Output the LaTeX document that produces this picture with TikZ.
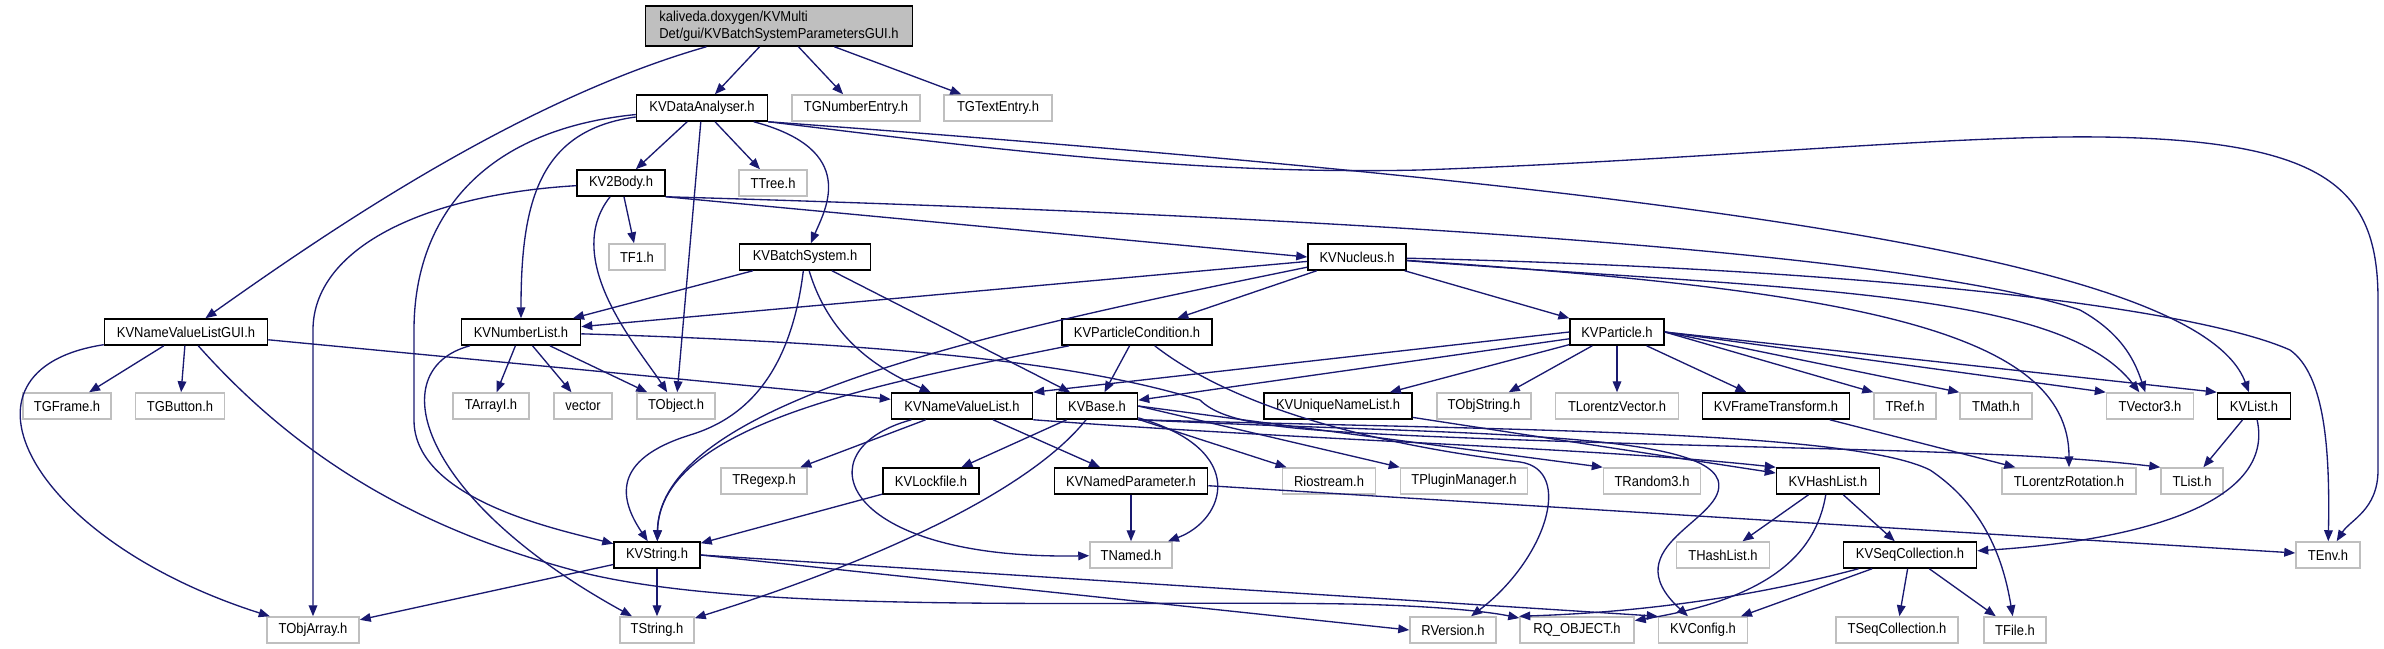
\documentclass[tikz,border=0pt]{standalone}
\usepackage{fontspec}
\usepackage{tikz}
\usetikzlibrary{arrows.meta}
\newfontfamily\doxfont[FakeStretch=0.9]{Liberation Sans}
\definecolor{cEdge}{HTML}{191970}
\definecolor{cExt}{HTML}{BFBFBF}
\definecolor{cRoot}{HTML}{BFBFBF}
\tikzset{
  hdr/.style     = {rectangle, draw=black, fill=white, line width=0.45mm, minimum height=7.8mm,
                    inner sep=0pt, font=\doxfont\fontsize{12.3}{14.5}\selectfont},
  doc/.style     = {hdr},
  ext/.style     = {hdr, draw=cExt},
  rootbox/.style = {hdr, fill=cRoot, minimum height=12mm, align=left},
  wd/.style      = {minimum width=#1*0.3mm},
  dep/.style     = {-{Triangle[length=3.3mm,width=2.6mm]}, draw=cEdge, line width=0.4mm},
}

\begin{document}
\begin{tikzpicture}[x=0.3mm, y=-0.3mm]
  \useasboundingbox (0,0) rectangle (2384,649);

  % rows of headers
  \node[rootbox, wd=267] (root) at (779,26) {kaliveda.doxygen/KVMulti\\Det/gui/KVBatchSystemParametersGUI.h};

  \node[doc, wd=131] (da)   at (702,108)  {KVDataAnalyser.h};
  \node[ext, wd=128] (tgne) at (856,108)  {TGNumberEntry.h};
  \node[ext, wd=108] (tgte) at (998,108)  {TGTextEntry.h};

  \node[doc, wd=88]  (kv2b)  at (621,183) {KV2Body.h};
  \node[ext, wd=68]  (ttree) at (773,183) {TTree.h};

  \node[ext, wd=56]  (tf1) at (637,257)  {TF1.h};
  \node[doc, wd=131] (bs)  at (805,257)  {KVBatchSystem.h};
  \node[doc, wd=98]  (nuc) at (1357,257) {KVNucleus.h};

  \node[doc, wd=163] (nvlg) at (186,332)  {KVNameValueListGUI.h};
  \node[doc, wd=119] (numl) at (521,332)  {KVNumberList.h};
  \node[doc, wd=150] (pc)   at (1137,332) {KVParticleCondition.h};
  \node[doc, wd=94]  (part) at (1617,332) {KVParticle.h};

  \node[ext, wd=88]  (tgf)   at (67,406)   {TGFrame.h};
  \node[ext, wd=89]  (tgb)   at (180,406)  {TGButton.h};
  \node[ext, wd=76]  (tai)   at (491,406)  {TArrayI.h};
  \node[ext, wd=58]  (vec)   at (583,406)  {vector};
  \node[ext, wd=78]  (tobj)  at (676,406)  {TObject.h};
  \node[doc, wd=141] (nvl)   at (962,406)  {KVNameValueList.h};
  \node[doc, wd=81]  (base)  at (1097,406) {KVBase.h};
  \node[doc, wd=148] (unl)   at (1338,406) {KVUniqueNameList.h};
  \node[ext, wd=94]  (tos)   at (1484,406) {TObjString.h};
  \node[ext, wd=123] (tlv)   at (1617,406) {TLorentzVector.h};
  \node[doc, wd=147] (ft)    at (1776,406) {KVFrameTransform.h};
  \node[ext, wd=62]  (tref)  at (1905,406) {TRef.h};
  \node[ext, wd=72]  (tmath) at (1996,406) {TMath.h};
  \node[ext, wd=87]  (tv3)   at (2150,406) {TVector3.h};
  \node[doc, wd=73]  (kvl)   at (2254,406) {KVList.h};

  \node[ext, wd=86]  (treg)  at (764,481)  {TRegexp.h};
  \node[doc, wd=96]  (lock)  at (931,481)  {KVLockfile.h};
  \node[doc, wd=153] (np)    at (1131,481) {KVNamedParameter.h};
  \node[ext, wd=93]  (rio)   at (1329,481) {Riostream.h};
  \node[ext, wd=127] (tpm)   at (1464,481) {TPluginManager.h};
  \node[ext, wd=97]  (tr3)   at (1652,481) {TRandom3.h};
  \node[doc, wd=103] (hl)    at (1828,481) {KVHashList.h};
  \node[ext, wd=134] (tlr)   at (2069,481) {TLorentzRotation.h};
  \node[ext, wd=62]  (tlist) at (2192,481) {TList.h};

  \node[doc, wd=86]  (str)  at (657,555)  {KVString.h};
  \node[ext, wd=82]  (tnam) at (1131,555) {TNamed.h};
  \node[ext, wd=93]  (thl)  at (1723,555) {THashList.h};
  \node[doc, wd=133] (seq)  at (1910,555) {KVSeqCollection.h};
  \node[ext, wd=64]  (tenv) at (2328,555) {TEnv.h};

  \node[ext, wd=92]  (toa)   at (313,630)  {TObjArray.h};
  \node[ext, wd=74]  (tstr)  at (657,630)  {TString.h};
  \node[ext, wd=86]  (rver)  at (1453,630) {RVersion.h};
  \node[ext, wd=114] (rq)    at (1577,630) {RQ\_OBJECT.h};
  \node[ext, wd=89]  (cfg)   at (1703,630) {KVConfig.h};
  \node[ext, wd=122] (tsc)   at (1897,630) {TSeqCollection.h};
  \node[ext, wd=62]  (tfile) at (2015,630) {TFile.h};

  % straight includes
  \foreach \a/\b in {root/da, root/tgne, root/tgte, da/kv2b, da/ttree, da/tobj, kv2b/tf1,
                     bs/numl, bs/base, nuc/numl, nuc/pc, nuc/part, pc/base,
                     part/unl, part/tos, part/tlv, part/ft, part/base,
                     nvlg/tgf, nvlg/tgb, nvlg/nvl, numl/tai, numl/vec, numl/tobj,
                     nvl/treg, nvl/np, base/lock, base/rio, unl/hl, ft/tlr, kvl/tlist,
                     np/tnam, np/tenv, lock/str, str/toa, str/tstr,
                     hl/thl, hl/seq, seq/cfg, seq/tsc, seq/tfile}
    \draw[dep] (\a) -- (\b);

  \draw[dep] (kv2b.south east) -- (nuc.west);
  \draw[dep] (part.west) -- (nvl.north east);
  \foreach \t in {tref, tmath, tv3, kvl}
    \draw[dep] (part.east) -- (\t.north west);
  \foreach \t in {tpm, tr3}
    \draw[dep] (base.east) -- (\t.north west);
  \draw[dep] (str.east) -- (rver.west);
  \draw[dep] (str.east) -- (cfg.north west);

  % curved includes
  \draw[dep] (root) .. controls (520,100) and (330,230) .. (nvlg);
  \draw[dep] (da) .. controls (540,130) and (521,200) .. (numl);
  \draw[dep] (da) .. controls (480,130) and (414,220) .. (414,330) -- (414,420)
             .. controls (414,500) and (560,530) .. (str);
  \draw[dep] (da) .. controls (860,150) and (825,210) .. (bs);
  \draw[dep] (da.south east) .. controls (1700,190) and (2200,260) .. (kvl);
  \draw[dep] (da.south east) .. controls (1000,150) and (1200,175) .. (1420,170)
             .. controls (1700,160) and (1950,135) .. (2100,137)
             .. controls (2330,140) and (2378,190) .. (2378,300) -- (2378,470)
             .. controls (2378,510) and (2350,520) .. (tenv);
  \draw[dep] (kv2b) .. controls (420,195) and (313,250) .. (313,330) -- (toa);
  \draw[dep] (kv2b) .. controls (560,260) and (640,350) .. (tobj);
  \draw[dep] (kv2b.south east) .. controls (1300,215) and (1900,250) .. (2080,310)
             .. controls (2125,335) and (2136,365) .. (tv3);
  \draw[dep] (bs) .. controls (790,380) and (740,420) .. (690,435)
             .. controls (610,460) and (620,500) .. (str);
  \draw[dep] (bs) .. controls (830,340) and (880,370) .. (nvl);
  \draw[dep] (nuc) .. controls (1000,330) and (660,400) .. (str);
  \draw[dep] (nuc) .. controls (1800,290) and (2060,290) .. (tv3);
  \draw[dep] (nuc) .. controls (1850,290) and (2069,330) .. (tlr);
  \draw[dep] (nuc) .. controls (1900,270) and (2200,310) .. (2290,350)
             .. controls (2325,375) and (2330,450) .. (tenv);
  \draw[dep] (pc) .. controls (900,380) and (660,420) .. (str);
  \draw[dep] (pc) .. controls (1250,420) and (1420,450) .. (1520,462)
             .. controls (1575,470) and (1545,560) .. (rver);
  \draw[dep] (nvlg) .. controls (-60,370) and (30,540) .. (toa);
  \draw[dep] (nvlg) .. controls (300,460) and (420,530) .. (580,572)
             .. controls (750,615) and (1100,600) .. (1350,604)
             .. controls (1440,606) and (1490,612) .. (rq);
  \draw[dep] (numl) .. controls (380,370) and (420,500) .. (tstr);
  \draw[dep] (numl) .. controls (950,345) and (1100,370) .. (1200,400)
             .. controls (1225,425) and (1290,430) .. (1420,436)
             .. controls (1750,450) and (2000,448) .. (tlist.north west);
  \draw[dep] (nvl) .. controls (800,450) and (840,560) .. (tnam);
  \draw[dep] (nvl.south east) .. controls (1300,440) and (1600,448) .. (hl.north west);
  \draw[dep] (base) .. controls (1250,450) and (1225,520) .. (tnam);
  \draw[dep] (base) .. controls (1030,490) and (880,560) .. (tstr);
  \draw[dep] (base.south east) .. controls (1450,435) and (1700,430) .. (1718,480)
             .. controls (1730,520) and (1610,545) .. (cfg);
  \draw[dep] (base.south east) .. controls (1500,430) and (1850,430) .. (1930,470)
             .. controls (1990,510) and (2005,570) .. (tfile);
  \draw[dep] (kvl) .. controls (2275,500) and (2150,540) .. (seq);
  \draw[dep] (hl) .. controls (1815,560) and (1760,600) .. (rq);
  \draw[dep] (seq) .. controls (1760,595) and (1650,612) .. (rq.north west);
\end{tikzpicture}
\end{document}
